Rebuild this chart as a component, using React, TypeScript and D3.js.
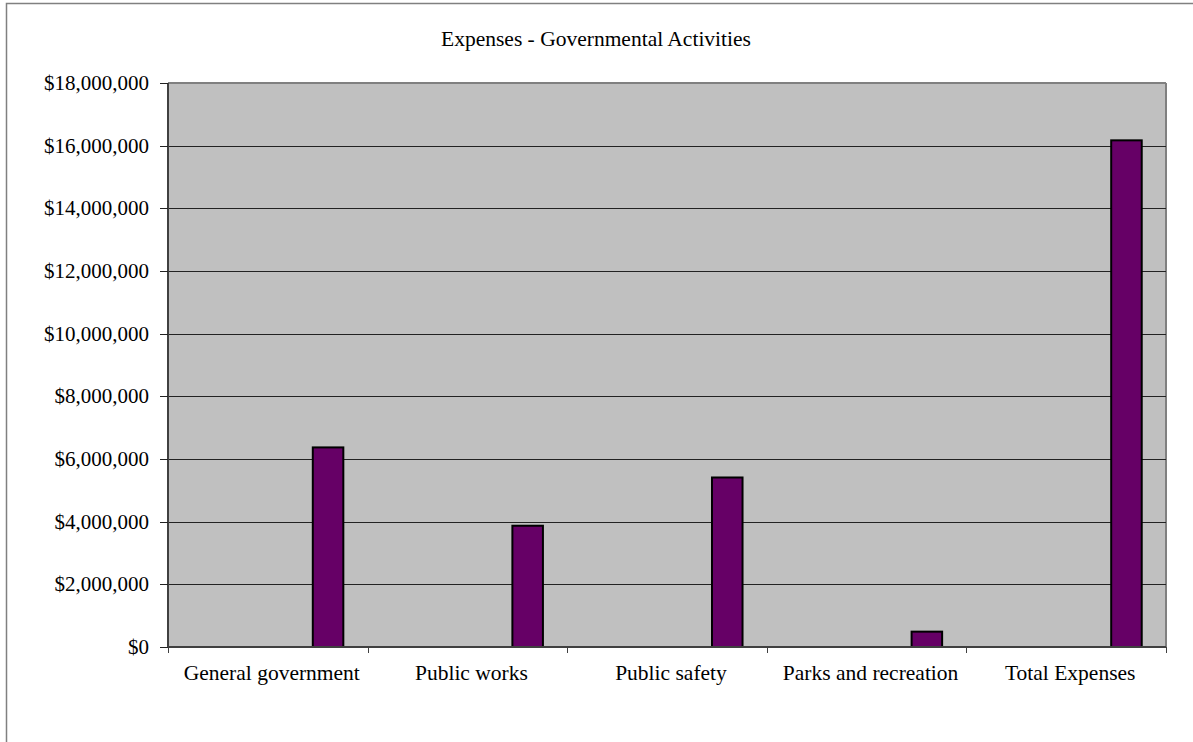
import React from "react";
import * as d3 from "d3";

const categories = [
  "General government",
  "Public works",
  "Public safety",
  "Parks and recreation",
  "Total Expenses",
];
const expenses = [6370000, 3870000, 5410000, 490000, 16170000];
const yTicks = [0, 2000000, 4000000, 6000000, 8000000, 10000000, 12000000, 14000000, 16000000, 18000000];
const chartTitle = "Expenses - Governmental Activities";

const W = 1193;
const H = 742;
const plot = { left: 168, right: 1166, top: 83, bottom: 647 };
const FONT = "'Liberation Serif', 'Times New Roman', serif";

export default function App() {
  const x = d3
    .scaleBand<string>()
    .domain(categories)
    .range([plot.left, plot.right])
    .padding(0);
  const y = d3.scaleLinear().domain([0, 18000000]).range([plot.bottom, plot.top]);
  const bw = x.bandwidth();
  const fmt = (v: number) => "$" + d3.format(",")(v);

  return (
    <svg
      width={W}
      height={H}
      style={{ position: "absolute", left: 0, top: 0, background: "#fff" }}
    >
      {/* outer chart frame */}
      <rect x={6.5} y={3.5} width={1300} height={900} fill="#fff" stroke="#808080" strokeWidth={1.5} />

      <text x={596} y={46} textAnchor="middle" fontFamily={FONT} fontSize={21.5} fill="#000">
        {chartTitle}
      </text>

      {/* plot area */}
      <rect
        x={plot.left}
        y={plot.top}
        width={plot.right - plot.left}
        height={plot.bottom - plot.top}
        fill="#C0C0C0"
      />
      <line x1={plot.left} x2={plot.right} y1={plot.top} y2={plot.top} stroke="#808080" strokeWidth={2} />
      <line x1={plot.right} x2={plot.right} y1={plot.top} y2={plot.bottom} stroke="#808080" strokeWidth={2} />

      {yTicks
        .filter((t) => t > 0 && t < 18000000)
        .map((t) => (
          <line
            key={"g" + t}
            x1={plot.left}
            x2={plot.right}
            y1={Math.round(y(t)) + 0.5}
            y2={Math.round(y(t)) + 0.5}
            stroke="#222"
            strokeWidth={1}
          />
        ))}

      {/* bars */}
      {categories.map((c, i) => (
        <rect
          key={c}
          x={(x(c) as number) + bw * 0.7254}
          y={y(expenses[i])}
          width={bw * 0.153}
          height={y(0) - y(expenses[i])}
          fill="#660066"
          stroke="#000"
          strokeWidth={2}
        />
      ))}

      {/* axes */}
      <line x1={plot.left} x2={plot.left} y1={plot.top} y2={plot.bottom} stroke="#404040" strokeWidth={2} />
      <line x1={plot.left} x2={plot.right} y1={plot.bottom} y2={plot.bottom} stroke="#404040" strokeWidth={2} />

      {yTicks.map((t) => (
        <g key={"y" + t}>
          <line
            x1={plot.left - 8}
            x2={plot.left}
            y1={Math.round(y(t)) + 0.5}
            y2={Math.round(y(t)) + 0.5}
            stroke="#222"
            strokeWidth={1}
          />
          <text
            x={149}
            y={y(t) + 7}
            textAnchor="end"
            fontFamily={FONT}
            fontSize={21}
            fill="#000"
          >
            {fmt(t)}
          </text>
        </g>
      ))}

      {[...categories.map((c) => x(c) as number), plot.right].map((px, i) => (
        <line
          key={"xt" + i}
          x1={Math.round(px) + 0.5}
          x2={Math.round(px) + 0.5}
          y1={plot.bottom}
          y2={plot.bottom + 6}
          stroke="#404040"
          strokeWidth={1}
        />
      ))}

      {categories.map((c) => (
        <text
          key={"xl" + c}
          x={(x(c) as number) + bw / 2 + 4}
          y={680}
          textAnchor="middle"
          fontFamily={FONT}
          fontSize={21.5}
          fill="#000"
        >
          {c}
        </text>
      ))}
    </svg>
  );
}
